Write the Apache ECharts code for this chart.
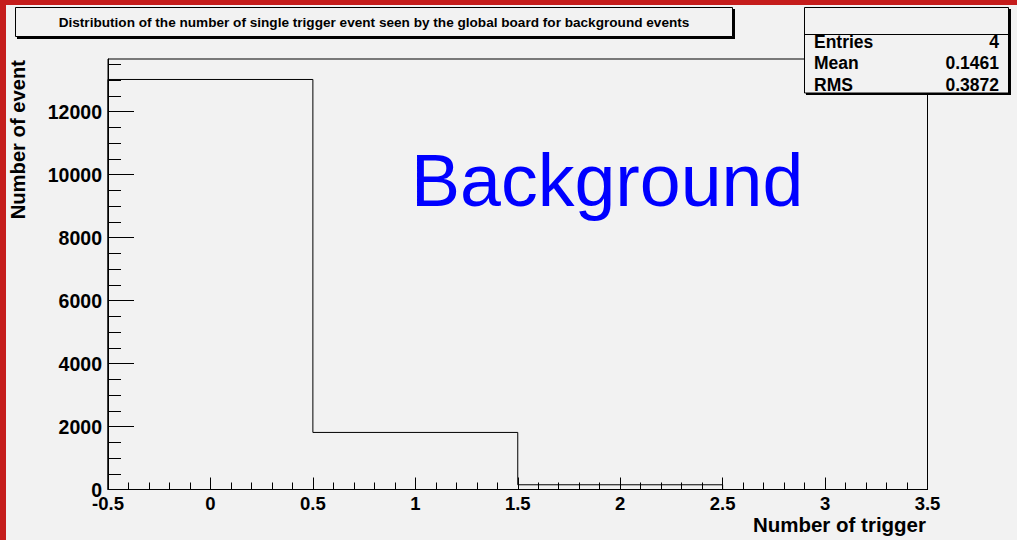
<!DOCTYPE html>
<html>
<head>
<meta charset="utf-8">
<script src="https://cdn.jsdelivr.net/npm/echarts@6/dist/echarts.min.js"></script>
<style>
html,body{margin:0;padding:0;background:#f2f2f2;}
#c{width:1017px;height:540px;}
</style>
</head>
<body>
<div id="c"></div>
<script>
// ---- data ----
const binEdges = [-0.5, 0.5, 1.5, 2.5, 3.5];
const binCounts = [13020, 1812, 150, 0];
const yMax = 13670;
const yMajorTicks = [0, 2000, 4000, 6000, 8000, 10000, 12000];
const yMinorTicks = [500, 1000, 1500, 2500, 3000, 3500, 4500, 5000, 5500, 6500, 7000, 7500,
  8500, 9000, 9500, 10500, 11000, 11500, 12500, 13000, 13500];
const titleText = 'Distribution of the number of single trigger event seen by the global board for background events';
const statNames = ['Entries', 'Mean', 'RMS'];
const statValues = ['4', '0.1461', '0.3872'];
const xTitle = 'Number of trigger';
const yTitle = 'Number of event';
const bigLabel = 'Background';

// step path built from bins
const stepData = [[binEdges[0], 0]];
for (let i = 0; i < binCounts.length; i++) stepData.push([binEdges[i + 1], binCounts[i]]);

const FONT = '"Liberation Sans", Arial, Helvetica, sans-serif';
const chart = echarts.init(document.getElementById('c'), null, {renderer: 'svg'});

const graphics = [];
// red border strips
graphics.push({type: 'rect', shape: {x: 0, y: 0, width: 1017, height: 5}, style: {fill: '#c51d1c'}, z: 0});
graphics.push({type: 'rect', shape: {x: 0, y: 0, width: 6, height: 540}, style: {fill: '#c51d1c'}, z: 0});
// title box
graphics.push({type: 'rect', shape: {x: 17, y: 9, width: 718, height: 30}, style: {fill: '#000'}, z: 1});
graphics.push({type: 'rect', shape: {x: 15.5, y: 7.5, width: 717, height: 29}, style: {fill: '#f2f2f2', stroke: '#000', lineWidth: 1}, z: 2});
graphics.push({type: 'text', x: 374, y: 22, style: {text: titleText, font: 'bold 13.6px ' + FONT, fill: '#000', textAlign: 'center', textVerticalAlign: 'middle'}, z: 3});
// stats box
graphics.push({type: 'rect', shape: {x: 806, y: 9, width: 205, height: 86}, style: {fill: '#000'}, z: 1});
graphics.push({type: 'rect', shape: {x: 804.5, y: 7.5, width: 204, height: 85.5}, style: {fill: '#f2f2f2', stroke: '#000', lineWidth: 1}, z: 2});
graphics.push({type: 'line', shape: {x1: 804.5, y1: 34.5, x2: 1008.5, y2: 34.5}, style: {stroke: '#000', lineWidth: 1}, z: 3});
statNames.forEach((n, i) => {
  const y = 41.5 + i * 21.5;
  graphics.push({type: 'text', x: 814, y: y, style: {text: n, font: 'bold 17.5px ' + FONT, fill: '#000', textAlign: 'left', textVerticalAlign: 'middle'}, z: 3});
  graphics.push({type: 'text', x: 999, y: y, style: {text: statValues[i], font: 'bold 17.5px ' + FONT, fill: '#000', textAlign: 'right', textVerticalAlign: 'middle'}, z: 3});
});
// axis titles
graphics.push({type: 'text', x: 926, y: 524, style: {text: xTitle, font: 'bold 20.5px ' + FONT, fill: '#000', textAlign: 'right', textVerticalAlign: 'middle'}, z: 3});
graphics.push({type: 'text', x: 17.5, y: 60, rotation: Math.PI / 2, style: {text: yTitle, font: 'bold 20.2px ' + FONT, fill: '#000', textAlign: 'right', textVerticalAlign: 'middle'}, z: 3});
// big label
graphics.push({type: 'text', x: 411, y: 180, style: {text: bigLabel, font: '73.5px ' + FONT, fill: '#0000ff', textAlign: 'left', textVerticalAlign: 'middle'}, z: 3});

const option = {
  backgroundColor: '#f2f2f2',
  animation: false,
  grid: {left: 108, right: 89.5, top: 59, bottom: 50.5, show: true, borderColor: '#000', borderWidth: 1, backgroundColor: 'transparent'},
  xAxis: {
    type: 'value', min: -0.5, max: 3.5, interval: 0.5,
    axisLine: {show: true, onZero: false, lineStyle: {color: '#000', width: 1}},
    axisTick: {show: true, inside: true, length: 12, lineStyle: {color: '#000', width: 1}},
    minorTick: {show: true, splitNumber: 5, length: 7, lineStyle: {color: '#000', width: 1}},
    splitLine: {show: false},
    axisLabel: {margin: 4, color: '#000', fontFamily: FONT, fontWeight: 'bold', fontSize: 18.5,
      showMinLabel: true, showMaxLabel: true, hideOverlap: false, formatter: v => String(v)}
  },
  yAxis: [{
    type: 'value', min: 0, max: yMax, position: 'left',
    axisLine: {show: true, onZero: false, lineStyle: {color: '#000', width: 1}},
    axisTick: {show: true, inside: true, length: 26, customValues: yMajorTicks, lineStyle: {color: '#000', width: 1}},
    splitLine: {show: false},
    axisLabel: {margin: 6, color: '#000', fontFamily: FONT, fontWeight: 'bold', fontSize: 19.5, customValues: yMajorTicks, hideOverlap: false, formatter: v => String(v)}
  }, {
    type: 'value', min: 0, max: yMax, position: 'left', offset: 0,
    axisLine: {show: false, onZero: false},
    axisTick: {show: true, inside: true, length: 13, customValues: yMinorTicks, lineStyle: {color: '#000', width: 1}},
    splitLine: {show: false},
    axisLabel: {show: false}
  }],
  series: [{
    type: 'line', step: 'start', data: stepData, xAxisIndex: 0, yAxisIndex: 0,
    symbol: 'none', showSymbol: false,
    lineStyle: {color: '#000', width: 1}, z: 5
  }],
  graphic: graphics
};
chart.setOption(option);
</script>
</body>
</html>
